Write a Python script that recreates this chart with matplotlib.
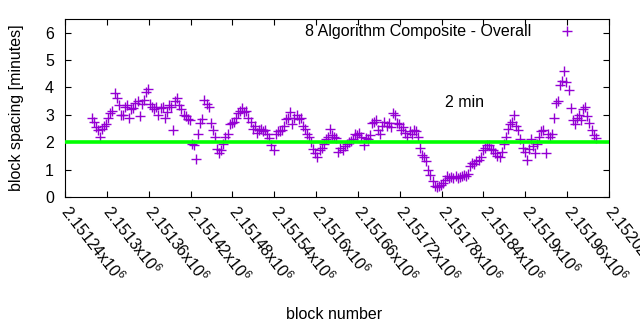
import numpy as np
import matplotlib
matplotlib.use("Agg")
import matplotlib.pyplot as plt

plt.rcParams['font.family'] = ['Liberation Sans', 'DejaVu Sans']
plt.rcParams['mathtext.fontset'] = 'custom'
plt.rcParams['mathtext.rm'] = 'Liberation Sans'
plt.rcParams['mathtext.it'] = 'Liberation Sans'

# --- data ----------------------------------------------------------------
firstBlock = 2151278
blockStep = 3
spacing = [
    2.9, 2.75, 2.55, 2.45, 2.2,   2.5, 2.6, 2.65, 2.9, 3.05,
    3.15, 3.8, 3.6, 3.35, 3.0,    3.0, 3.3, 3.35, 2.9, 3.2,
    3.25, 3.45, 3.5, 2.95, 3.4,   3.55, 3.85, 3.95, 3.4, 3.3,
    3.2, 3.3, 3.0, 3.25, 3.3,     2.9, 3.1, 3.35, 3.3, 2.45,
    3.5, 3.6, 3.35, 3.2, 3.0,     2.95, 2.85, 2.8, 1.95, 1.9,
    1.4, 2.3, 2.7, 2.85, 3.55,    3.4, 3.3, 2.7, 2.45, 2.2,
    1.75, 1.6, 1.7, 1.95, 2.2,    2.3, 2.65, 2.7, 2.75, 2.9,
    3.05, 3.15, 3.25, 3.1, 3.15,  2.9, 2.75, 2.5, 2.6, 2.35,
    2.45, 2.5, 2.4, 2.45, 2.3,    2.15, 1.9, 1.7, 2.3, 2.4,
    2.4, 2.45, 2.6, 2.85, 2.9,    3.1, 2.65, 2.9, 3.0, 2.85,
    2.9, 2.6, 2.5, 2.3, 2.2,      2.0, 1.75, 1.6, 1.45, 1.7,
    1.8, 1.95, 2.1, 2.2, 2.5,     2.25, 2.2, 2.15, 1.65, 1.8,
    1.7, 1.85, 1.95, 2.0, 2.05,   2.1, 2.3, 2.25, 2.35, 2.2,
    1.9, 2.15, 2.1, 2.25, 2.7,    2.75, 2.8, 2.45, 2.3, 2.6,
    2.75, 2.6, 2.7, 2.55, 3.05,   3.0, 2.7, 2.65, 2.45, 2.55,
    2.35, 2.2, 2.4, 2.3, 2.45,    2.4, 2.2, 1.8, 1.55, 1.45,
    1.3, 1.0, 0.8, 0.6, 0.4,      0.35, 0.4, 0.45, 0.5, 0.62,
    0.75, 0.68, 0.72, 0.7, 0.75,  0.7, 0.72, 0.78, 0.8, 0.75,
    0.85, 1.15, 1.25, 1.2, 1.3,   1.35, 1.45, 1.7, 1.8, 1.9,
    1.9, 1.75, 1.7, 1.6, 1.5,     1.45, 1.65, 1.95, 2.2, 2.5,
    2.65, 2.75, 3.0, 2.6, 2.45,   2.1, 1.8, 1.65, 1.35, 1.75,
    2.1, 1.85, 1.6, 1.95, 2.2,    2.4, 2.45, 1.6, 2.3, 2.2,
    2.3, 2.9, 3.45, 3.5, 4.1,     4.25, 4.6, 4.2, 3.9, 3.25,
    2.8, 2.65, 2.9, 3.0, 2.8,     3.2, 3.3, 2.95, 2.7, 2.45,
    2.25, 2.15,
]
blocks = firstBlock + blockStep * np.arange(len(spacing))

targetSpacing = 2.0
xTicks = list(range(2151240, 2152021, 60))
xTickLabels = ["%gx10$^{6}$" % (t / 1e6) for t in xTicks]
yTicks = [0, 1, 2, 3, 4, 5, 6]

fs = 11.5

# --- plot ------------------------------------------------------------------
fig = plt.figure(figsize=(6.4, 3.3), dpi=100)
ax = fig.add_axes([65 / 640, 1 - 197 / 330, 544 / 640, 178 / 330])

ax.plot(blocks, spacing, linestyle='none', marker='+', markersize=6.5,
        markeredgewidth=1.0, color='#9400d3',
        label='8 Algorithm Composite - Overall')
ax.axhline(targetSpacing, color='#00ff00', linewidth=2.6, zorder=3)
ax.text(2151813, 3.45, '2 min', ha='center', va='center', fontsize=fs)

ax.set_xlim(2151240, 2152020)
ax.set_ylim(0, 6.5)
ax.set_xticks(xTicks)
ax.set_xticklabels(xTickLabels, rotation=-52, ha='left', va='center',
                   rotation_mode='anchor', fontsize=fs)
ax.set_yticks(yTicks)
ax.tick_params(direction='in', length=4, width=0.8, top=True, right=True,
               labelsize=fs)
ax.tick_params(axis='x', pad=8)
ax.tick_params(axis='y', pad=8)
for s in ax.spines.values():
    s.set_linewidth(0.8)

ax.set_xlabel('block number', fontsize=fs)
ax.set_ylabel('block spacing [minutes]', fontsize=fs)
ax.xaxis.set_label_coords(0.495, -0.62)
ax.yaxis.set_label_coords(-0.075, 0.5)

ax.legend(loc='upper right', bbox_to_anchor=(0.952, 0.97), frameon=False,
          markerfirst=False, handletextpad=1.25, borderaxespad=0,
          borderpad=0, fontsize=fs)

fig.savefig('out.png', dpi=100)
